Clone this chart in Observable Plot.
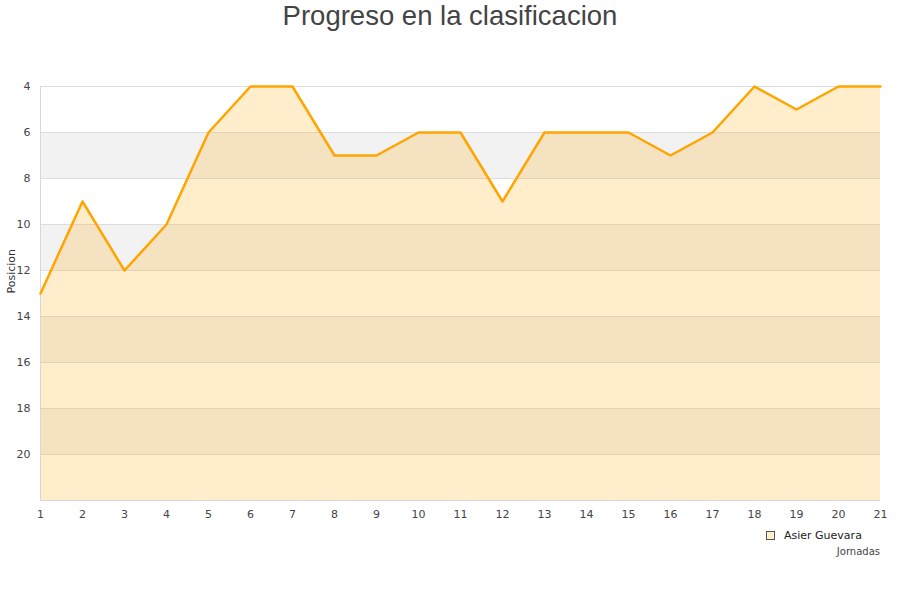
<!DOCTYPE html>
<html><head><meta charset="utf-8">
<script src="https://cdn.jsdelivr.net/npm/d3@7"></script>
<script src="https://cdn.jsdelivr.net/npm/@observablehq/plot@0.6"></script>
<style>
body{margin:0;background:#fff;font-family:"DejaVu Sans",sans-serif;}
#wrap{position:relative;width:900px;height:600px;}
#title{position:absolute;top:0;left:0;width:900px;text-align:center;font-family:"Liberation Sans",Arial,sans-serif;font-size:27.5px;color:#444;line-height:32px;}
#legend{position:absolute;left:762px;top:528px;font-size:11px;color:#222;background:#fff;padding:1px 4px;display:flex;align-items:center;}
#legend span.sw{display:inline-block;width:7px;height:7px;border:1px solid #555;background:#ffedcc;margin-right:9px;}
#xl{position:absolute;right:20px;top:546px;font-size:10px;color:#444;}
</style></head>
<body><div id="wrap"><div id="title">Progreso en la clasificacion</div><div id="xl">Jornadas</div><div id="legend"><span class="sw"></span>Asier Guevara</div></div>
<script>
const jornadas = [1,2,3,4,5,6,7,8,9,10,11,12,13,14,15,16,17,18,19,20,21];
const posiciones = [13,9,12,10,6,4,4,7,7,6,6,9,6,6,6,7,6,4,5,4,4];
const yTicks = [4,6,8,10,12,14,16,18,20];
const bandStarts = [6,10,14,18];
const serieNombre = "Asier Guevara";

const data = jornadas.map((j,i)=>({j, p: posiciones[i]}));
const bands = bandStarts.map(b=>({y1:b, y2:b+2}));

const chart = Plot.plot({
  width: 900, height: 600,
  marginTop: 86, marginBottom: 100, marginLeft: 40, marginRight: 20,
  style: {fontFamily: "DejaVu Sans, sans-serif", fontSize: "11px", color: "#444", background: "transparent"},
  x: {domain: [1,21], ticks: jornadas, tickSize: 0, tickPadding: 10, label: null, tickFormat: d=>d},
  y: {domain: [4,22], reverse: true, ticks: yTicks, tickSize: 0, tickPadding: 10, label: null},
  marks: [
    Plot.rectY(bands, {x1: 1, x2: 21, y1: "y1", y2: "y2", fill: "#f2f2f2"}),
    Plot.ruleY(yTicks, {stroke: "#dddddd", strokeWidth: 1}),
    Plot.areaY(data, {x: "j", y1: 22, y2: "p", fill: "orange", fillOpacity: 0.2}),
    Plot.ruleY([22], {stroke: "#d8d8d8"}),
    Plot.ruleX([1], {stroke: "#d8d8d8"}),
    Plot.lineY(data, {x: "j", y: "p", stroke: "orange", strokeWidth: 2.5}),
    Plot.text(["Posicion"], {frameAnchor: "left", dx: -29, rotate: -90, fontSize: 11, fill: "#333"})
  ]
});
document.getElementById("wrap").prepend(chart);
chart.style.position = "absolute"; chart.style.left = "0"; chart.style.top = "0";
document.querySelector("#legend").lastChild.textContent = serieNombre;
</script>
</body></html>
